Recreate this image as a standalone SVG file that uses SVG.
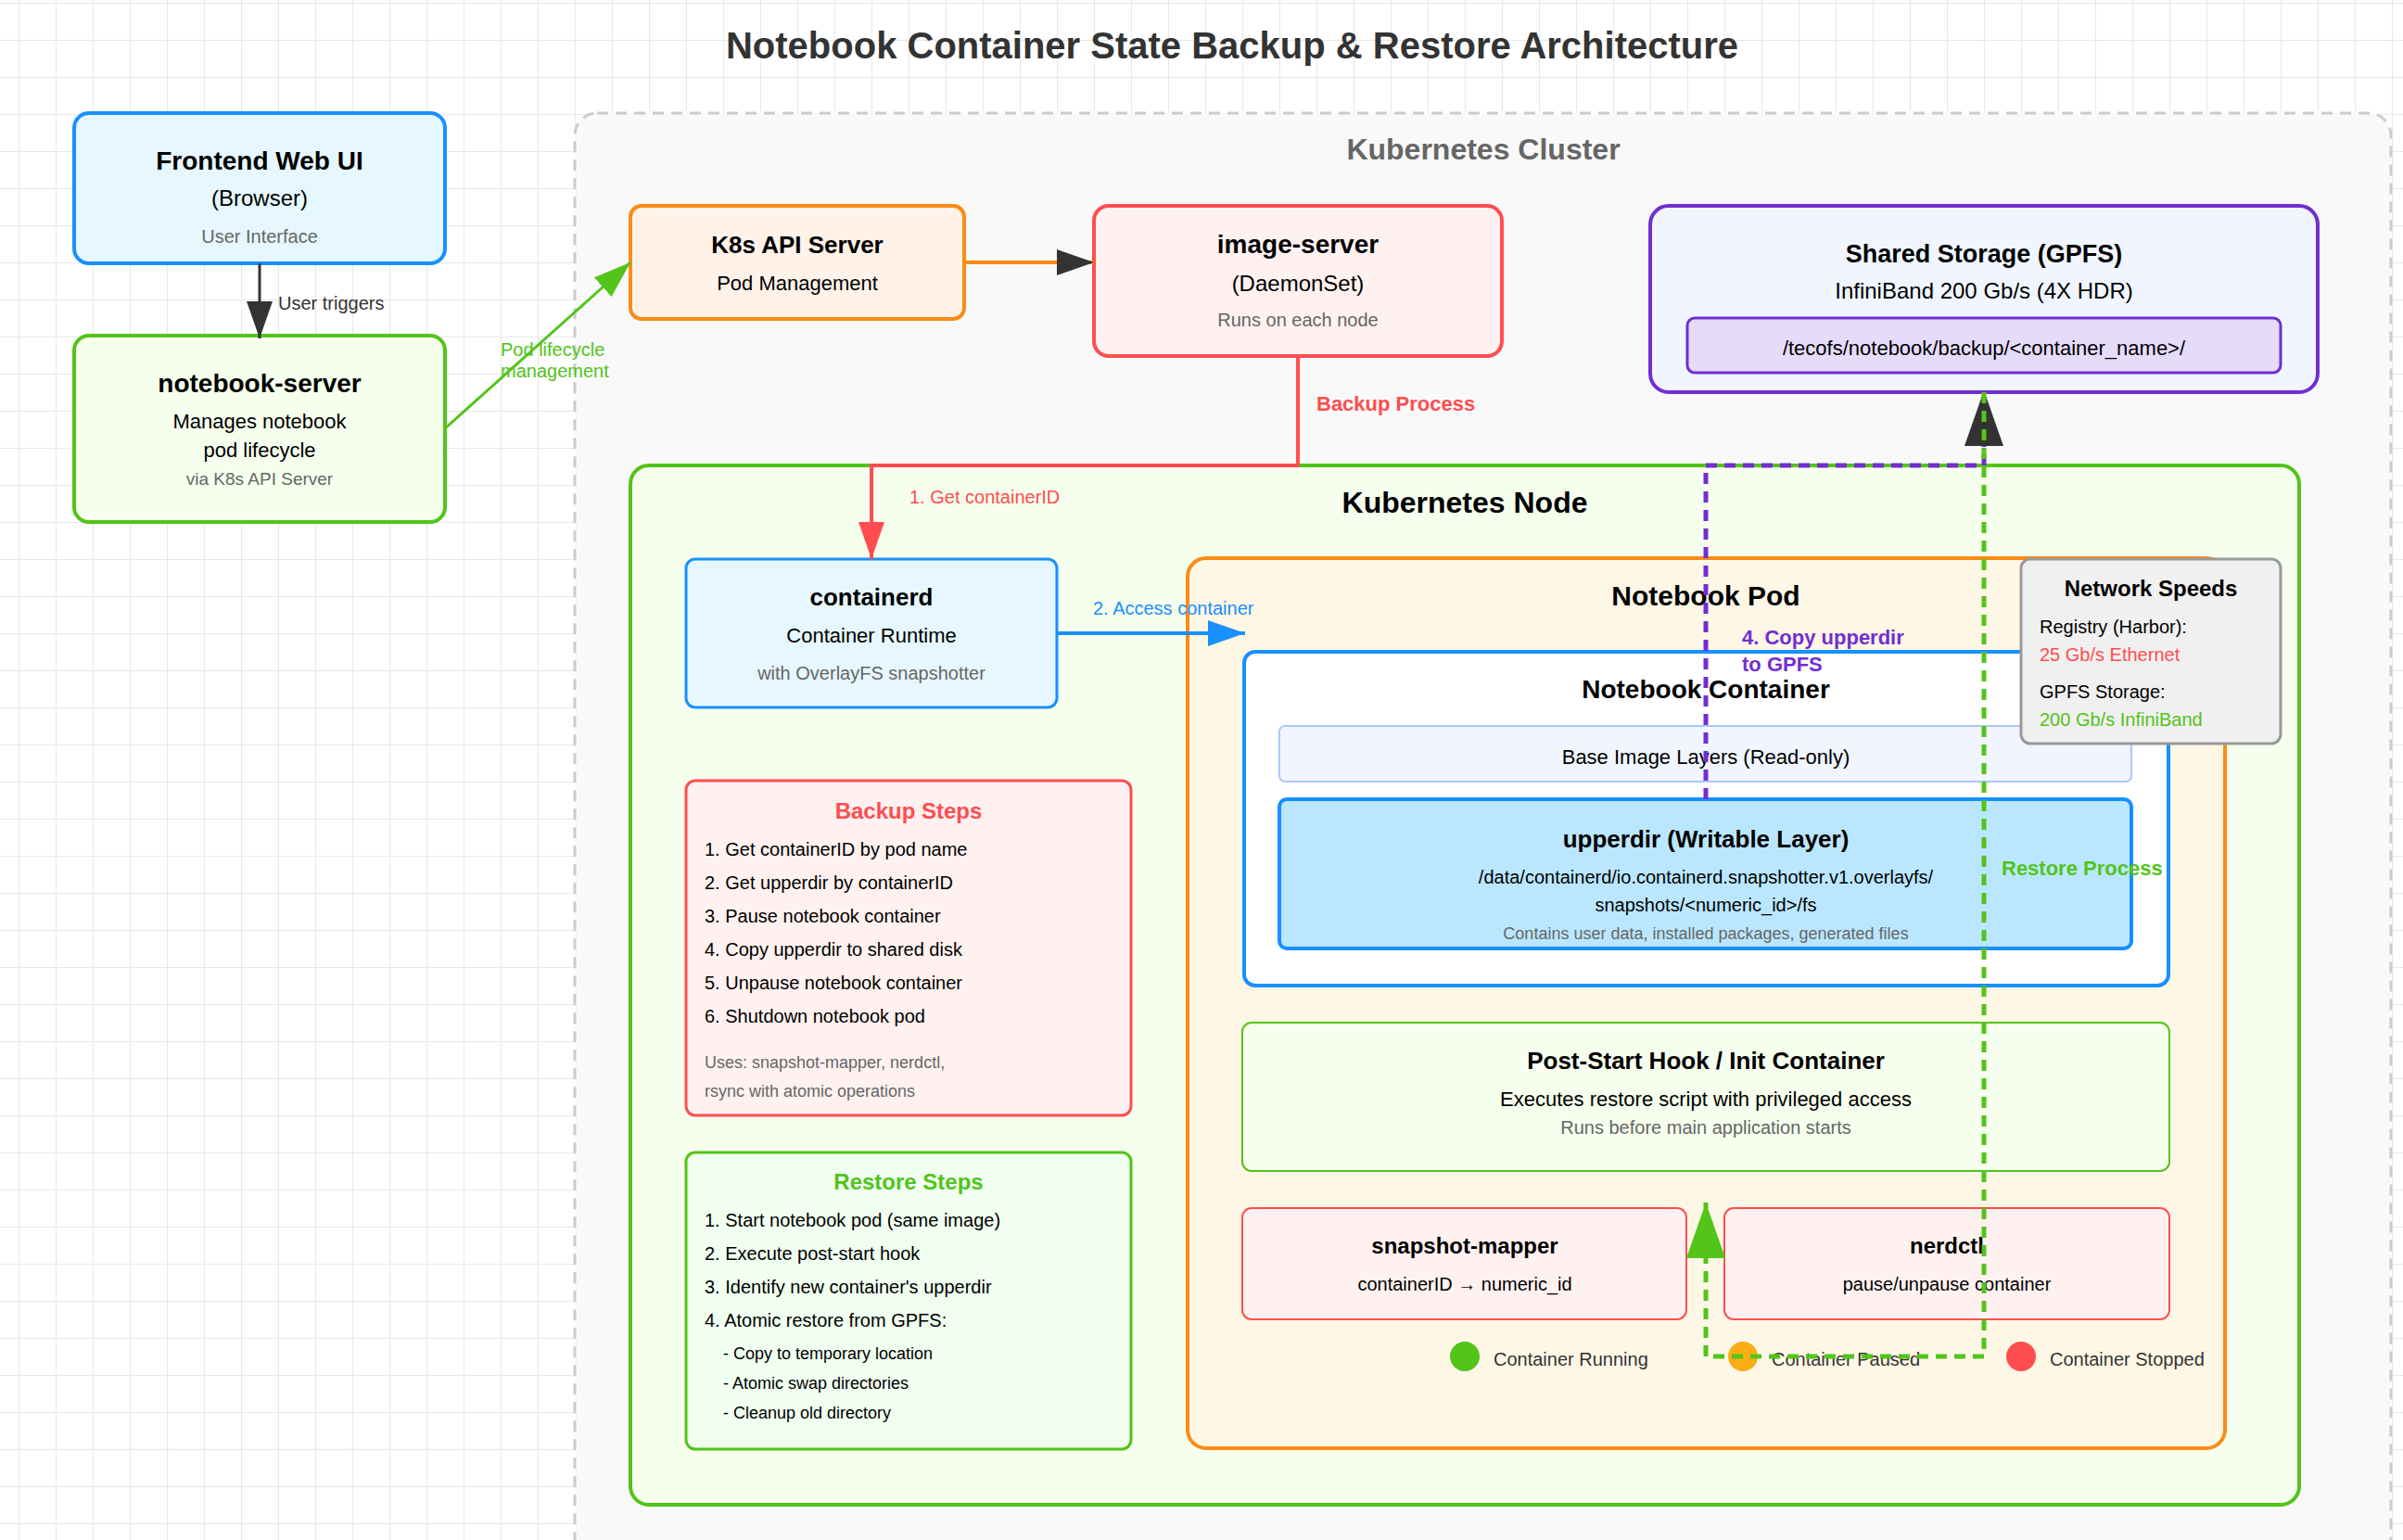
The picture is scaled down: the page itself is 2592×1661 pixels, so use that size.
<svg xmlns="http://www.w3.org/2000/svg" width="2592" height="1661" viewBox="0 0 2592 1661">
<defs>
<pattern id="grid" x="20" y="3" width="40" height="40" patternUnits="userSpaceOnUse">
<rect width="40" height="1" fill="#E8E8E8"/><rect width="1" height="40" fill="#E8E8E8"/>
</pattern>
<marker id="a-dark" viewBox="0 0 10 7" refX="10" refY="3.5" markerWidth="40" markerHeight="28" markerUnits="userSpaceOnUse" orient="auto"><polygon points="0 0,10 3.5,0 7" fill="#333"/></marker>
<marker id="a-green" viewBox="0 0 10 7" refX="10" refY="3.5" markerWidth="40" markerHeight="28" markerUnits="userSpaceOnUse" orient="auto"><polygon points="0 0,10 3.5,0 7" fill="#52C41A"/></marker>
<marker id="a-red" viewBox="0 0 10 7" refX="10" refY="3.5" markerWidth="40" markerHeight="28" markerUnits="userSpaceOnUse" orient="auto"><polygon points="0 0,10 3.5,0 7" fill="#FF4D4F"/></marker>
<marker id="a-blue" viewBox="0 0 10 7" refX="10" refY="3.5" markerWidth="40" markerHeight="28" markerUnits="userSpaceOnUse" orient="auto"><polygon points="0 0,10 3.5,0 7" fill="#1890FF"/></marker>
<marker id="A-dark" viewBox="0 0 10 7" refX="10" refY="3.5" markerWidth="60" markerHeight="42" markerUnits="userSpaceOnUse" orient="auto"><polygon points="0 0,10 3.5,0 7" fill="#333"/></marker>
<marker id="A-green" viewBox="0 0 10 7" refX="10" refY="3.5" markerWidth="60" markerHeight="42" markerUnits="userSpaceOnUse" orient="auto"><polygon points="0 0,10 3.5,0 7" fill="#52C41A"/></marker>
</defs>
<style>
text { font-family: "Liberation Sans", Arial, Helvetica, sans-serif; fill: #000; }
.c { text-anchor: middle; }
.b { font-weight: bold; }
.g { fill: #666; }
.conn { fill: none; }
</style>
<rect width="2592" height="1661" fill="#FFFFFF"/>
<rect width="2592" height="1661" fill="url(#grid)"/>

<text x="1329" y="63" class="c b" font-size="40" style="fill:#333">Notebook Container State Backup &amp; Restore Architecture</text>

<g id="frontend">
<rect x="80" y="122" width="400" height="162" rx="16" fill="#E6F7FF" stroke="#1890FF" stroke-width="4"/>
<text x="280" y="183" class="c b" font-size="28">Frontend Web UI</text>
<text x="280" y="222" class="c" font-size="24">(Browser)</text>
<text x="280" y="262" class="c g" font-size="20">User Interface</text>
</g>

<g id="notebook-server">
<rect x="80" y="362" width="400" height="201" rx="16" fill="#F6FFED" stroke="#52C41A" stroke-width="4"/>
<text x="280" y="423" class="c b" font-size="28">notebook-server</text>
<text x="280" y="462" class="c" font-size="22">Manages notebook</text>
<text x="280" y="493" class="c" font-size="22">pod lifecycle</text>
<text x="280" y="523" class="c g" font-size="19">via K8s API Server</text>
</g>

<g id="k8s-cluster">
<rect x="620" y="122" width="1959" height="1600" rx="24" fill="#F9F9F9" stroke="#CCCCCC" stroke-width="3" stroke-dasharray="12 8"/>
<text x="1600" y="172" class="c b" font-size="32" style="fill:#666">Kubernetes Cluster</text>
</g>

<g id="k8s-api">
<rect x="680" y="222" width="360" height="122" rx="12" fill="#FFF2E8" stroke="#FA8C16" stroke-width="4"/>
<text x="860" y="273" class="c b" font-size="26">K8s API Server</text>
<text x="860" y="313" class="c" font-size="22">Pod Management</text>
</g>

<g id="image-server">
<rect x="1180" y="222" width="440" height="162" rx="16" fill="#FFF1F0" stroke="#FF4D4F" stroke-width="4"/>
<text x="1400" y="273" class="c b" font-size="28">image-server</text>
<text x="1400" y="314" class="c" font-size="24">(DaemonSet)</text>
<text x="1400" y="352" class="c g" font-size="20">Runs on each node</text>
</g>

<g id="shared-storage">
<rect x="1780" y="222" width="720" height="201" rx="20" fill="#F0F5FF" stroke="#722ED1" stroke-width="4"/>
<text x="2140" y="283" class="c b" font-size="27">Shared Storage (GPFS)</text>
<text x="2140" y="322" class="c" font-size="24">InfiniBand 200 Gb/s (4X HDR)</text>
<rect x="1820" y="343" width="640" height="59" rx="8" fill="#E5DBFB" stroke="#722ED1" stroke-width="3"/>
<text x="2140" y="383" class="c" font-size="22">/tecofs/notebook/backup/&lt;container_name&gt;/</text>
</g>

<g id="k8s-node">
<rect x="680" y="502" width="1800" height="1121" rx="20" fill="#F6FFED" stroke="#52C41A" stroke-width="4"/>
<text x="1580" y="553" class="c b" font-size="32">Kubernetes Node</text>
</g>

<g id="containerd">
<rect x="740" y="603" width="400" height="160" rx="10" fill="#E6F7FF" stroke="#1890FF" stroke-width="3"/>
<text x="940" y="653" class="c b" font-size="26">containerd</text>
<text x="940" y="693" class="c" font-size="22">Container Runtime</text>
<text x="940" y="733" class="c g" font-size="20">with OverlayFS snapshotter</text>
</g>

<g id="backup-steps">
<rect x="740" y="842" width="480" height="361" rx="10" fill="#FFF1F0" stroke="#FF4D4F" stroke-width="3"/>
<text x="980" y="883" class="c b" font-size="24" style="fill:#FF4D4F">Backup Steps</text>
<text x="760" y="923" font-size="20">1. Get containerID by pod name</text>
<text x="760" y="959" font-size="20">2. Get upperdir by containerID</text>
<text x="760" y="995" font-size="20">3. Pause notebook container</text>
<text x="760" y="1031" font-size="20">4. Copy upperdir to shared disk</text>
<text x="760" y="1067" font-size="20">5. Unpause notebook container</text>
<text x="760" y="1103" font-size="20">6. Shutdown notebook pod</text>
<text x="760" y="1152" class="g" font-size="18">Uses: snapshot-mapper, nerdctl,</text>
<text x="760" y="1183" class="g" font-size="18">rsync with atomic operations</text>
</g>

<g id="restore-steps">
<rect x="740" y="1243" width="480" height="320" rx="10" fill="#F0FFF0" stroke="#52C41A" stroke-width="3"/>
<text x="980" y="1283" class="c b" font-size="24" style="fill:#52C41A">Restore Steps</text>
<text x="760" y="1323" font-size="20">1. Start notebook pod (same image)</text>
<text x="760" y="1359" font-size="20">2. Execute post-start hook</text>
<text x="760" y="1395" font-size="20">3. Identify new container's upperdir</text>
<text x="760" y="1431" font-size="20">4. Atomic restore from GPFS:</text>
<text x="780" y="1466" font-size="18">- Copy to temporary location</text>
<text x="780" y="1498" font-size="18">- Atomic swap directories</text>
<text x="780" y="1530" font-size="18">- Cleanup old directory</text>
</g>

<g id="notebook-pod">
<rect x="1281" y="602" width="1119" height="960" rx="20" fill="#FFF7E6" stroke="#FA8C16" stroke-width="4"/>
<text x="1840" y="653" class="c b" font-size="30">Notebook Pod</text>
</g>

<g id="notebook-container">
<rect x="1342" y="703" width="997" height="360" rx="12" fill="#FFFFFF" stroke="#1890FF" stroke-width="4"/>
<text x="1840" y="753" class="c b" font-size="28">Notebook Container</text>
</g>

<g id="base-layers">
<rect x="1380" y="783" width="919" height="60" rx="6" fill="#F0F5FF" stroke="#ADC6FF" stroke-width="2"/>
<text x="1840" y="824" class="c" font-size="22">Base Image Layers (Read-only)</text>
</g>

<g id="upperdir">
<rect x="1380" y="862" width="919" height="161" rx="8" fill="#BAE7FF" stroke="#1890FF" stroke-width="4"/>
<text x="1840" y="914" class="c b" font-size="26">upperdir (Writable Layer)</text>
<text x="1840" y="953" class="c" font-size="20">/data/containerd/io.containerd.snapshotter.v1.overlayfs/</text>
<text x="1840" y="983" class="c" font-size="20">snapshots/&lt;numeric_id&gt;/fs</text>
<text x="1840" y="1013" class="c g" font-size="18">Contains user data, installed packages, generated files</text>
</g>

<g id="post-start-hook">
<rect x="1340" y="1103" width="1000" height="160" rx="10" fill="#F6FFED" stroke="#52C41A" stroke-width="2"/>
<text x="1840" y="1153" class="c b" font-size="26">Post-Start Hook / Init Container</text>
<text x="1840" y="1193" class="c" font-size="22">Executes restore script with privileged access</text>
<text x="1840" y="1223" class="c g" font-size="20">Runs before main application starts</text>
</g>

<g id="snapshot-mapper">
<rect x="1340" y="1303" width="479" height="120" rx="10" fill="#FFF1F0" stroke="#FF4D4F" stroke-width="2"/>
<text x="1580" y="1352" class="c b" font-size="24">snapshot-mapper</text>
<text x="1580" y="1392" class="c" font-size="20">containerID → numeric_id</text>
</g>

<g id="nerdctl">
<rect x="1860" y="1303" width="480" height="120" rx="10" fill="#FFF1F0" stroke="#FF4D4F" stroke-width="2"/>
<text x="2100" y="1352" class="c b" font-size="24">nerdctl</text>
<text x="2100" y="1392" class="c" font-size="20">pause/unpause container</text>
</g>

<g id="legend">
<circle cx="1580" cy="1463" r="16" fill="#52C41A"/>
<text x="1611" y="1473" font-size="20" style="fill:#333">Container Running</text>
<circle cx="1880" cy="1463" r="16" fill="#FAAD14"/>
<text x="1911" y="1473" font-size="20" style="fill:#333">Container Paused</text>
<circle cx="2180" cy="1463" r="16" fill="#FF4D4F"/>
<text x="2211" y="1473" font-size="20" style="fill:#333">Container Stopped</text>
</g>

<g id="network-speeds">
<rect x="2180" y="603" width="280" height="199" rx="10" fill="#F0F0F0" stroke="#999999" stroke-width="3"/>
<text x="2320" y="643" class="c b" font-size="24">Network Speeds</text>
<text x="2200" y="683" font-size="20">Registry (Harbor):</text>
<text x="2200" y="713" font-size="20" style="fill:#FF4D4F">25 Gb/s Ethernet</text>
<text x="2200" y="753" font-size="20">GPFS Storage:</text>
<text x="2200" y="783" font-size="20" style="fill:#52C41A">200 Gb/s InfiniBand</text>
</g>

<g id="connectors">
<path class="conn" d="M280 284 L280 365" stroke="#333" stroke-width="3" marker-end="url(#a-dark)"/>
<text x="300" y="334" font-size="20" style="fill:#333">User triggers</text>
<path class="conn" d="M479 463 L680 283" stroke="#52C41A" stroke-width="3" marker-end="url(#a-green)"/>
<text x="540" y="384" font-size="20" style="fill:#52C41A">Pod lifecycle</text>
<text x="540" y="407" font-size="20" style="fill:#52C41A">management</text>
<path class="conn" d="M1040 283 L1180 283" stroke="#FA8C16" stroke-width="4" marker-end="url(#a-dark)"/>
<path class="conn" d="M1400 384 L1400 502 L940 502 L940 603" stroke="#FF4D4F" stroke-width="4" marker-end="url(#a-red)"/>
<text x="1420" y="443" class="b" font-size="22" style="fill:#FF4D4F">Backup Process</text>
<text x="981" y="543" font-size="20" style="fill:#FF4D4F">1. Get containerID</text>
<path class="conn" d="M1140 683 L1343 683" stroke="#1890FF" stroke-width="4" marker-end="url(#a-blue)"/>
<text x="1179" y="663" font-size="20" style="fill:#1890FF">2. Access container</text>
<path class="conn" d="M1840 862 L1840 502 L2140 502 L2140 421" stroke="#722ED1" stroke-width="5" stroke-dasharray="12 8" marker-end="url(#A-dark)"/>
<text x="1879" y="695" class="b" font-size="22" style="fill:#722ED1">4. Copy upperdir</text>
<text x="1879" y="724" class="b" font-size="22" style="fill:#722ED1">to GPFS</text>
<path class="conn" d="M2140 423 L2140 1463 L1840 1463 L1840 1297" stroke="#52C41A" stroke-width="5" stroke-dasharray="12 8" marker-end="url(#A-green)"/>
<text x="2159" y="944" class="b" font-size="22" style="fill:#52C41A">Restore Process</text>
</g>
</svg>
